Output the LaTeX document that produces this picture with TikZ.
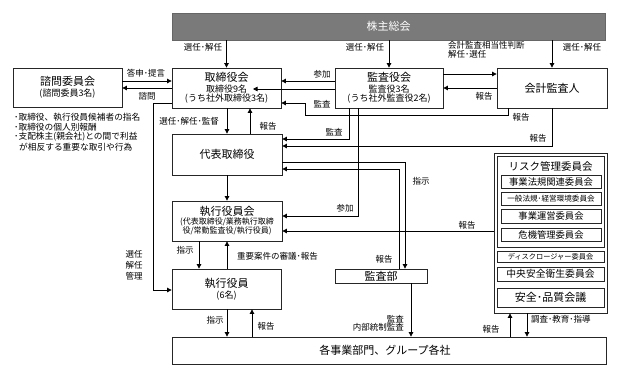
\documentclass[tikz,border=0pt]{standalone}
\usepackage{fontspec}
\setmainfont{Noto Sans CJK JP}
\usetikzlibrary{arrows.meta}
\begin{document}
\begin{tikzpicture}[x=1pt,y=-1pt,
  box/.style={draw=black!85, line width=0.8pt, inner sep=0pt, fill=white},
  arr/.style={-{Triangle[length=4.5pt,width=4.5pt]}, line width=0.75pt},
  lbl/.style={font=\fontsize{8.5}{8.5}\selectfont, inner sep=0pt},
  big/.style={font=\fontsize{11}{12}\selectfont, inner sep=0pt},
  sub/.style={font=\fontsize{9}{10}\selectfont, inner sep=0pt},
  tiny/.style={font=\fontsize{8}{9}\selectfont, inner sep=0pt}]
\useasboundingbox (0,0) rectangle (621,378);

% ---------- boxes ----------
\node[box, fill=black!52, draw=black!60, minimum width=433pt, minimum height=27pt] (kabu) at (388.5,26.5) {};
\node[big, text=white] (kabu-t) at (388.5,26.5) {株主総会};

\node[box, minimum width=109pt, minimum height=39pt] (shimon) at (67.5,87.5) {};
\node[big] (shimon-t) at (67.5,81.5) {諮問委員会};
\node[sub] (shimon-s) at (67.5,94) {(諮問委員3名)};

\node[box, minimum width=109pt, minimum height=40pt] (tori) at (226.5,88) {};
\node[big] (tori-t) at (226.5,77) {取締役会};
\node[sub] (tori-s1) at (226.5,89.5) {取締役9名};
\node[sub] (tori-s2) at (226.5,99) {(うち社外取締役3名)};

\node[box, minimum width=108pt, minimum height=40pt] (kansa) at (389,88) {};
\node[big] (kansa-t) at (389,77) {監査役会};
\node[sub] (kansa-s1) at (389,89.5) {監査役3名};
\node[sub] (kansa-s2) at (389,99) {(うち社外監査役2名)};

\node[box, minimum width=110pt, minimum height=40pt] (kaikei) at (552,88) {};
\node[big] (kaikei-t) at (552,88) {会計監査人};

\node[box, minimum width=110pt, minimum height=41pt] (daihyo) at (227,154.5) {};
\node[big] (daihyo-t) at (227,154.5) {代表取締役};

\node[box, minimum width=110pt, minimum height=40pt] (shikko) at (227,221) {};
\node[big] (shikko-t) at (227,211) {執行役員会};
\node[tiny] (shikko-s1) at (227,222) {(代表取締役/業務執行取締};
\node[tiny] (shikko-s2) at (227,231) {役/常勤監査役/執行役員)};

\node[box, minimum width=109pt, minimum height=40pt] (yakuin) at (226.5,289) {};
\node[big] (yakuin-t) at (226.5,283.5) {執行役員};
\node[sub] (yakuin-s) at (226.5,295.5) {(6名)};

\node[box, minimum width=92pt, minimum height=14pt] (kansabu) at (381,276) {};
\node[big] (kansabu-t) at (381,276) {監査部};

\node[box, minimum width=434pt, minimum height=27pt] (jigyo) at (389,350.5) {};
\node[big] (jigyo-t) at (385,350.5) {各事業部門、グループ各社};

% right-hand committees
\node[box, minimum width=113pt, minimum height=160pt] (outer) at (550.5,233) {};
\node[box, minimum width=107pt, minimum height=91pt] (risk) at (550.5,201.5) {};
\node[font=\fontsize{10.5}{11}\selectfont, inner sep=0pt] (risk-t) at (550.5,166) {リスク管理委員会};
\node[box, minimum width=100pt, minimum height=13pt, font=\fontsize{9.3}{10}\selectfont] (r1) at (551,181.5) {事業法規関連委員会};
\node[box, minimum width=100pt, minimum height=13pt, font=\fontsize{7.6}{8}\selectfont] (r2) at (551,198.5) {一般法規･経営環境委員会};
\node[box, minimum width=100pt, minimum height=14pt, font=\fontsize{9.3}{10}\selectfont] (r3) at (551,216) {事業運営委員会};
\node[box, minimum width=100pt, minimum height=13pt, font=\fontsize{9.3}{10}\selectfont] (r4) at (551,234.5) {危機管理委員会};
\node[box, minimum width=107pt, minimum height=11pt, font=\fontsize{7.2}{8}\selectfont] (d1) at (550.5,257) {ディスクロージャー委員会};
\node[box, minimum width=107pt, minimum height=14pt, font=\fontsize{9.8}{10}\selectfont] (d2) at (550.5,274) {中央安全衛生委員会};
\node[box, minimum width=107pt, minimum height=19pt, font=\fontsize{11}{12}\selectfont] (d3) at (550.5,297.5) {安全･品質会議};

% notes under advisory committee
\node[lbl, anchor=west, font=\fontsize{8.7}{9}\selectfont] (n1) at (14,117) {･取締役、執行役員候補者の指名};
\node[lbl, anchor=west, font=\fontsize{8.7}{9}\selectfont] (n2) at (14,127) {･取締役の個人別報酬};
\node[lbl, anchor=west, font=\fontsize{8.7}{9}\selectfont] (n3) at (14,137) {･支配株主(親会社)との間で利益};
\node[lbl, anchor=west, font=\fontsize{8.7}{9}\selectfont] (n4) at (19,147) {が相反する重要な取引や行為};

% ---------- connectors ----------
% shareholders meeting
\draw[arr] (kabu.south -| tori.north) -- (tori.north);
\node[lbl] (l1) at (203,47) {選任･解任};
\draw[arr] (kabu.south -| kansa.north) -- (kansa.north);
\node[lbl] (l2) at (365,47) {選任･解任};
\draw[arr] (kabu.south -| kaikei.north) -- (kaikei.north);
\node[lbl] (l3) at (582,47) {選任･解任};

% audit board <-> accounting auditor
\draw[arr] (kansa.east |- 0,74) -- (kaikei.west |- 0,74);
\node[lbl, anchor=west, align=left] (l4) at (448,50) {会計監査相当性判断\\解任･選任};
\draw[arr] (kaikei.west |- 0,88) -- (kansa.east |- 0,88);
\node[lbl] (l5) at (484,96) {報告};

% advisory committee <-> board
\draw[arr] (shimon.east |- 0,81) -- (tori.west |- 0,81);
\node[lbl] (l6) at (146,73) {答申･提言};
\draw[arr] (tori.west |- 0,88) -- (shimon.east |- 0,88);
\node[lbl] (l7) at (147,96) {諮問};

% audit board -> board
\draw[arr] (kansa.west |- 0,81) -- (tori.east |- 0,81);
\node[lbl] (l8) at (322,74) {参加};
\coordinate (tori-in) at (253,89);
\draw[arr] (kansa.west |- 0,89) -- (tori-in);
\node[lbl] (l9) at (322,104) {監査};

% accounting auditor -> board
\draw[arr] (kaikei.south -| 508,0) -- (508,115) -- (305,115) -- (305,103) -- (tori.east |- 0,103);
\node[lbl] (l10) at (521,117) {報告};

% board <-> representative director
\draw[arr] (tori.south -| 227,0) -- (daihyo.north -| 227,0);
\node[lbl] (l11) at (189,121) {選任･解任･監督};
\draw[arr] (daihyo.north -| 250,0) -- (tori.south -| 250,0);
\node[lbl] (l12) at (268,126) {報告};

% audit board -> representative director
\draw[arr] (kansa.south -| 349,0) -- (349,139) -- (daihyo.east |- 0,139);
\node[lbl] (l13) at (334,132) {監査};
% accounting auditor -> representative director
\draw[arr] (kaikei.south) -- (552,146) -- (daihyo.east |- 0,146);
\node[lbl] (l14) at (538,138) {報告};

% representative director <-> internal audit dept
\draw[arr] (daihyo.east |- 0,162) -- (405,162) -- (kansabu.north -| 405,0);
\node[lbl] (l15) at (421,181) {指示};
\draw[arr] (kansabu.north -| 399,0) -- (399,169) -- (daihyo.east |- 0,169);
\node[lbl] (l16) at (384,259) {報告};

% representative director -> executive committee
\draw[arr] (daihyo.south -| 227,0) -- (shikko.north -| 227,0);

% audit board -> executive committee
\draw[arr] (kansa.south -| 358,0) -- (358,216) -- (shikko.east |- 0,216);
\node[lbl] (l17) at (345,208) {参加};
% committees -> executive committee
\draw[arr] (outer.west |- 0,231) -- (shikko.east |- 0,231);
\node[lbl] (l18) at (467,225) {報告};

% executive committee <-> executive officers
\draw[arr] (shikko.south -| 199,0) -- (yakuin.north -| 199,0);
\node[lbl] (l19) at (185,250) {指示};
\draw[arr] (yakuin.north -| 227,0) -- (shikko.south -| 227,0);
\node[lbl, anchor=west] (l20) at (237,256) {重要案件の審議･報告};

% board -> executive officers
\draw[arr] (tori.west |- 0,103) -- (153,103) -- (153,290) -- (yakuin.west |- 0,290);
\node[lbl, align=center, font=\fontsize{8.5}{11}\selectfont] (l21) at (134,265) {選任\\解任\\管理};

% executive officers <-> business divisions
\draw[arr] (yakuin.south -| 227,0) -- (jigyo.north -| 227,0);
\node[lbl] (l22) at (215,320) {指示};
\draw[arr] (jigyo.north -| 252,0) -- (yakuin.south -| 252,0);
\node[lbl] (l23) at (266,326) {報告};

% internal audit -> business divisions
\draw[arr] (kansabu.south -| 411,0) -- (jigyo.north -| 411,0);
\node[lbl, anchor=east, align=right] (l24) at (404,323.5) {監査\\内部統制監査};

% committees <-> business divisions
\draw[arr] (jigyo.north -| 510,0) -- (outer.south -| 510,0);
\node[lbl] (l25) at (491,329) {報告};
\draw[arr] (outer.south -| 527,0) -- (jigyo.north -| 527,0);
\node[lbl, anchor=west] (l26) at (531,319) {調査･教育･指導};
\end{tikzpicture}
\end{document}
